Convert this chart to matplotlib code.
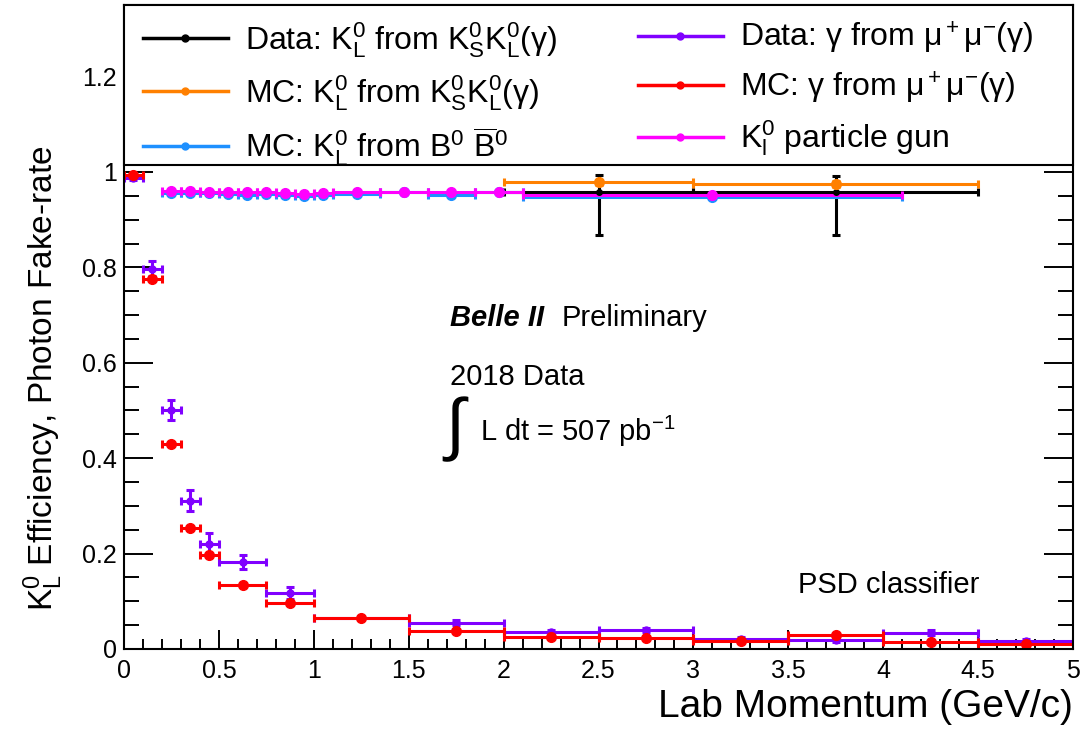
import numpy as np
import matplotlib.pyplot as plt
from matplotlib.lines import Line2D
from matplotlib.patches import Rectangle
from matplotlib.ticker import MultipleLocator, FormatStrFormatter

plt.rcParams['font.family'] = ['Liberation Sans', 'DejaVu Sans']
plt.rcParams['mathtext.fontset'] = 'custom'
plt.rcParams['mathtext.rm'] = 'Liberation Sans'
plt.rcParams['mathtext.it'] = 'Liberation Sans:italic'
plt.rcParams['mathtext.bf'] = 'Liberation Sans:bold'
plt.rcParams['mathtext.default'] = 'regular'

# photon fake-rate from mu mu (gamma), bin edges in GeV/c
gam_edges = np.array([0, .1, .2, .3, .4, .5, .75, 1., 1.5, 2., 2.5, 3., 3.5, 4., 4.5, 5.])
data_gam = np.array([0.988, 0.797, 0.501, 0.311, 0.220, 0.183, 0.118, 0.066, 0.055,
                     0.036, 0.040, 0.021, 0.018, 0.034, 0.017])
data_gam_err = np.array([0.005, 0.016, 0.022, 0.022, 0.023, 0.015, 0.013, 0.004, 0.005,
                         0.004, 0.005, 0.004, 0.004, 0.005, 0.004])
mc_gam = np.array([0.993, 0.776, 0.430, 0.253, 0.197, 0.134, 0.096, 0.064, 0.038,
                   0.025, 0.024, 0.017, 0.029, 0.015, 0.011])
mc_gam_err = np.array([0.003, 0.004, 0.004, 0.004, 0.004, 0.003, 0.003, 0.002, 0.002,
                       0.002, 0.002, 0.002, 0.002, 0.002, 0.002])

# K_L efficiency from Ks Kl (gamma)
kk_edges = np.array([2., 3., 4.5])
data_kk = np.array([0.959, 0.959])
data_kk_lo = np.array([0.091, 0.091])
data_kk_hi = np.array([0.034, 0.033])
mc_kk = np.array([0.978, 0.975])
mc_kk_err = np.array([0.006, 0.006])

# K_L efficiency from B0 B0bar MC and particle gun
kl_edges = np.array([.2, .3, .4, .5, .6, .7, .8, .9, 1., 1.1, 1.35, 1.6, 1.85, 2.1, 4.1])
mc_bb = np.array([0.955, 0.956, 0.955, 0.953, 0.952, 0.953, 0.951, 0.950, 0.952,
                  0.953, 0.957, 0.952, 0.958, 0.948])
gun = np.array([0.960, 0.960, 0.959, 0.958, 0.957, 0.957, 0.955, 0.954, 0.955,
                0.957, 0.958, 0.957, 0.958, 0.952])

labels = ['Data: K$_L^0$ from K$_S^0$K$_L^0$(γ)',
          'MC: K$_L^0$ from K$_S^0$K$_L^0$(γ)',
          'MC: K$_L^0$ from B$^0$ $\\overline{B}^0$',
          'Data: γ from μ$^+$μ$^{-}$(γ)',
          'MC: γ from μ$^+$μ$^{-}$(γ)',
          'K$_l^0$ particle gun']
colors = ['black', '#ff8000', '#1e90ff', '#8000ff', '#ff0000', '#ff00ff']


def centers(edges):
    return (edges[1:] + edges[:-1]) / 2, np.diff(edges) / 2


fig = plt.figure(figsize=(10.84, 7.34), dpi=100)
ax = fig.add_axes([124 / 1084, 1 - 649 / 734, 949 / 1084, 644 / 734])

eb = dict(elinewidth=2.2, capsize=3, capthick=2.2, linestyle='none')

x, xe = centers(kk_edges)
ax.errorbar(x, data_kk, xerr=xe, yerr=[data_kk_lo, data_kk_hi], fmt='o', ms=4,
            color=colors[0], **eb)
ax.errorbar(x, mc_kk, xerr=xe, yerr=mc_kk_err, fmt='o', ms=7, color=colors[1], **eb)

x, xe = centers(kl_edges)
ax.errorbar(x, mc_bb, xerr=xe, yerr=0.003, fmt='o', ms=7, color=colors[2], **eb)

x, xe = centers(gam_edges)
ax.errorbar(x, data_gam, xerr=xe, yerr=data_gam_err, fmt='o', ms=5, color=colors[3], **eb)
ax.errorbar(x, mc_gam, xerr=xe, yerr=mc_gam_err, fmt='o', ms=7, color=colors[4], **eb)

x, xe = centers(kl_edges)
ax.errorbar(x, gun, xerr=xe, yerr=0.003, fmt='o', ms=7, color=colors[5], **eb)

ax.set_xlim(0, 5)
ax.set_ylim(0, 1.35)
ax.xaxis.set_major_locator(MultipleLocator(0.5))
ax.xaxis.set_minor_locator(MultipleLocator(0.1))
ax.yaxis.set_major_locator(MultipleLocator(0.2))
ax.yaxis.set_minor_locator(MultipleLocator(0.05))
ax.xaxis.set_major_formatter(FormatStrFormatter('%g'))
ax.yaxis.set_major_formatter(FormatStrFormatter('%g'))
ax.tick_params(which='both', direction='in', top=True, right=True, width=1.4, labelsize=18)
ax.tick_params(axis='x', which='major', length=14, pad=7)
ax.tick_params(axis='x', which='minor', length=7)
ax.tick_params(axis='y', which='major', length=21, pad=5)
ax.tick_params(axis='y', which='minor', length=11)
for s in ax.spines.values():
    s.set_linewidth(1.5)

ax.set_xlabel('Lab Momentum (GeV/c)', fontsize=28, ha='right')
ax.xaxis.set_label_coords(1.0, -0.062)
ax.set_ylabel('K$_L^0$ Efficiency, Photon Fake-rate', fontsize=24)
ax.yaxis.set_label_coords(-0.062, 0.42)

ax.text(1.718, 0.677, 'Belle II', fontsize=21, fontweight='bold', fontstyle='italic')
ax.text(2.306, 0.677, 'Preliminary', fontsize=21)
ax.text(1.718, 0.553, '2018 Data', fontsize=21)
ax.text(1.75, 0.461, r'$\int$', fontsize=50, ha='center', va='center')
ax.text(1.876, 0.435, 'L dt = 507 pb$^{-1}$', fontsize=21)
ax.text(3.551, 0.117, 'PSD classifier', fontsize=21)

# legend box on top of the frame
ax.add_patch(Rectangle((0, 0.7516), 1, 0.2484, transform=ax.transAxes, fc='white',
                       ec='black', lw=1.5, zorder=9, clip_on=False))
handles = [Line2D([], [], color=c, lw=2.5, marker='o', ms=5) for c in colors]
opts = dict(loc='upper left', fontsize=23, frameon=False, handlelength=2.66,
            handletextpad=0.53, labelspacing=0.41, borderaxespad=0, borderpad=0)
leg1 = ax.legend(handles[:3], labels[:3], bbox_to_anchor=(0.020, 0.977), **opts)
leg1.set_zorder(10)
ax.add_artist(leg1)
leg2 = ax.legend(handles[3:], labels[3:], bbox_to_anchor=(0.5416, 0.977), **opts)
leg2.set_zorder(10)

fig.savefig('out.png', dpi=100)
